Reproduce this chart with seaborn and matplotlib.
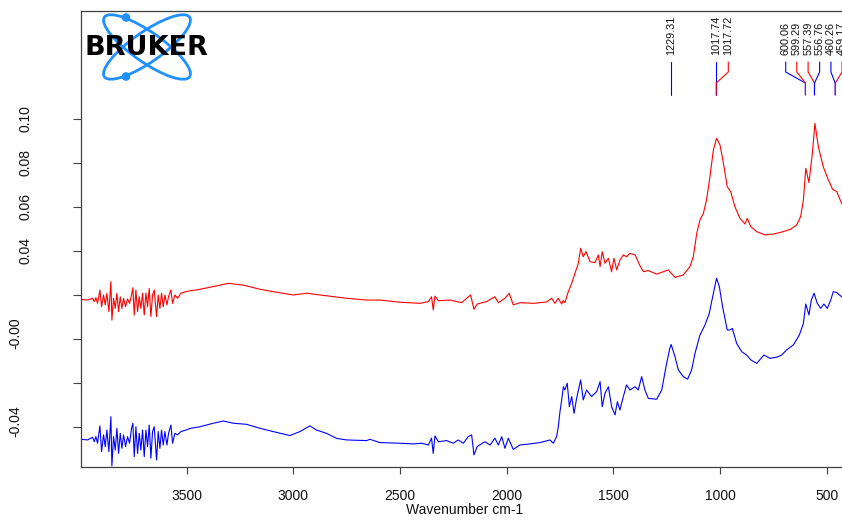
import numpy as np
import pandas as pd
import matplotlib
matplotlib.use("Agg")
import matplotlib.pyplot as plt
import matplotlib.transforms as mtransforms
from matplotlib.patches import Ellipse, Circle
import seaborn as sns

# ---------------- data (wavenumber cm-1, absorbance) ----------------
red_spectrum = [
    (3995.5, 0.0180), (3964.3, 0.0177), (3940.8, 0.0185), (3933.0, 0.0170), (3925.2, 0.0188),
    (3917.4, 0.0162), (3906.4, 0.0223), (3898.6, 0.0147), (3889.3, 0.0200), (3881.4, 0.0155),
    (3873.6, 0.0208), (3864.3, 0.0124), (3854.9, 0.0261), (3850.2, 0.0086), (3842.4, 0.0185),
    (3834.6, 0.0139), (3826.8, 0.0208), (3818.9, 0.0124), (3811.1, 0.0192), (3803.3, 0.0139),
    (3795.5, 0.0185), (3786.1, 0.0147), (3776.8, 0.0182), (3767.4, 0.0162), (3758.0, 0.0200),
    (3751.8, 0.0233), (3745.5, 0.0109), (3737.7, 0.0223), (3729.9, 0.0124), (3722.1, 0.0192),
    (3714.3, 0.0139), (3706.4, 0.0208), (3698.6, 0.0109), (3690.8, 0.0208), (3683.0, 0.0147),
    (3675.2, 0.0230), (3667.4, 0.0102), (3659.6, 0.0200), (3651.8, 0.0223), (3640.8, 0.0102),
    (3633.0, 0.0200), (3625.2, 0.0139), (3617.4, 0.0208), (3609.6, 0.0147), (3601.8, 0.0200),
    (3592.4, 0.0155), (3584.6, 0.0192), (3573.6, 0.0223), (3565.8, 0.0162), (3554.9, 0.0200),
    (3542.4, 0.0185), (3526.8, 0.0208), (3503.3, 0.0215), (3479.9, 0.0220),
    (3453, 0.0223), (3375, 0.0238), (3305, 0.0253), (3235, 0.0245), (3156, 0.0226),
    (3094, 0.0215), (3000, 0.0200), (2937, 0.0208), (2875, 0.0200), (2750, 0.0185),
    (2656, 0.0177), (2594, 0.0177), (2500, 0.0167), (2406, 0.0162), (2367, 0.0170),
    (2352, 0.0192), (2344, 0.0132), (2336, 0.0195), (2320, 0.0174), (2266, 0.0177),
    (2211, 0.0165), (2169, 0.0200), (2153, 0.0135), (2138, 0.0159), (2094, 0.0170),
    (2055, 0.0192), (2039, 0.0165), (2008, 0.0185), (1988, 0.0208), (1969, 0.0155),
    (1938, 0.0165), (1875, 0.0162), (1813, 0.0168), (1789, 0.0185), (1774, 0.0162),
    (1758, 0.0185), (1742, 0.0159), (1735, 0.0175), (1727, 0.0165), (1711, 0.0215),
    (1695, 0.0253), (1680, 0.0298), (1664, 0.0344), (1653, 0.0412), (1641, 0.0374),
    (1628, 0.0397), (1609, 0.0351), (1586, 0.0347), (1570, 0.0382), (1562, 0.0329),
    (1552, 0.0397), (1539, 0.0344), (1523, 0.0367), (1508, 0.0306), (1497, 0.0367),
    (1484, 0.0314), (1469, 0.0359), (1453, 0.0382), (1438, 0.0374), (1422, 0.0389),
    (1398, 0.0382), (1375, 0.0333), (1359, 0.0306), (1336, 0.0311), (1297, 0.0295),
    (1266, 0.0306), (1242, 0.0314), (1211, 0.0280), (1172, 0.0291), (1141, 0.0329),
    (1125, 0.0374), (1109, 0.0480), (1094, 0.0541), (1078, 0.0571), (1063, 0.0632),
    (1047, 0.0738), (1031, 0.0859), (1016, 0.0912), (1000, 0.0882), (984, 0.0799),
    (966, 0.0692), (950, 0.0670), (930, 0.0601), (906, 0.0548), (883, 0.0523),
    (872, 0.0548), (856, 0.0511), (828, 0.0488), (789, 0.0473), (750, 0.0477),
    (703, 0.0488), (669, 0.0499), (641, 0.0518), (622, 0.0556), (609, 0.0632),
    (598, 0.0776), (583, 0.0711), (567, 0.0844), (555, 0.0980), (539, 0.0874),
    (516, 0.0783), (492, 0.0723), (472, 0.0680), (453, 0.0670), (430, 0.0617),
    (400, 0.0580),
]

blue_spectrum = [
    (3995.5, -0.0456), (3964.3, -0.0459), (3940.8, -0.0447), (3933.0, -0.0467), (3925.2, -0.0444),
    (3917.4, -0.0474), (3906.4, -0.0395), (3898.6, -0.0512), (3889.3, -0.0436), (3881.4, -0.0489),
    (3873.6, -0.0414), (3864.3, -0.0512), (3854.9, -0.0353), (3850.2, -0.0577), (3842.4, -0.0444),
    (3834.6, -0.0505), (3826.8, -0.0406), (3818.9, -0.0520), (3811.1, -0.0429), (3803.3, -0.0497),
    (3795.5, -0.0436), (3786.1, -0.0489), (3776.8, -0.0444), (3767.4, -0.0474), (3758.0, -0.0406),
    (3751.8, -0.0383), (3745.5, -0.0535), (3737.7, -0.0399), (3729.9, -0.0520), (3722.1, -0.0429),
    (3714.3, -0.0505), (3706.4, -0.0414), (3698.6, -0.0535), (3690.8, -0.0414), (3683.0, -0.0489),
    (3675.2, -0.0391), (3667.4, -0.0542), (3659.6, -0.0421), (3651.8, -0.0399), (3640.8, -0.0550),
    (3633.0, -0.0421), (3625.2, -0.0497), (3617.4, -0.0414), (3609.6, -0.0482), (3601.8, -0.0421),
    (3592.4, -0.0482), (3584.6, -0.0429), (3573.6, -0.0391), (3565.8, -0.0474), (3554.9, -0.0429),
    (3542.4, -0.0436), (3526.8, -0.0421), (3503.3, -0.0414), (3479.9, -0.0406),
    (3438, -0.0399), (3375, -0.0383), (3328, -0.0373), (3281, -0.0383), (3219, -0.0388),
    (3156, -0.0406), (3094, -0.0421), (3016, -0.0439), (2969, -0.0421), (2922, -0.0395),
    (2891, -0.0414), (2844, -0.0429), (2797, -0.0452), (2750, -0.0459), (2656, -0.0462),
    (2641, -0.0456), (2594, -0.0471), (2500, -0.0474), (2438, -0.0477), (2398, -0.0474),
    (2367, -0.0482), (2352, -0.0451), (2344, -0.0520), (2336, -0.0441), (2320, -0.0467),
    (2281, -0.0462), (2250, -0.0474), (2227, -0.0459), (2203, -0.0474), (2180, -0.0444),
    (2164, -0.0436), (2153, -0.0527), (2138, -0.0489), (2102, -0.0467), (2078, -0.0482),
    (2055, -0.0451), (2039, -0.0482), (2023, -0.0444), (2008, -0.0497), (1992, -0.0451),
    (1969, -0.0502), (1938, -0.0482), (1891, -0.0477), (1844, -0.0471), (1797, -0.0459),
    (1781, -0.0474), (1766, -0.0444), (1758, -0.0400), (1750, -0.0330), (1742, -0.0277),
    (1734, -0.0217), (1727, -0.0232), (1716, -0.0201), (1706, -0.0308), (1695, -0.0262),
    (1684, -0.0338), (1672, -0.0270), (1653, -0.0186), (1641, -0.0277), (1625, -0.0232),
    (1602, -0.0262), (1578, -0.0239), (1562, -0.0194), (1552, -0.0308), (1539, -0.0247),
    (1523, -0.0217), (1508, -0.0308), (1492, -0.0345), (1481, -0.0285), (1469, -0.0323),
    (1453, -0.0262), (1438, -0.0209), (1422, -0.0232), (1398, -0.0217), (1383, -0.0232),
    (1367, -0.0171), (1352, -0.0232), (1336, -0.0270), (1297, -0.0274), (1273, -0.0232),
    (1250, -0.0111), (1235, -0.0042), (1229, -0.0025), (1211, -0.0080), (1195, -0.0141),
    (1172, -0.0171), (1152, -0.0183), (1133, -0.0141), (1117, -0.0065), (1094, 0.0018),
    (1070, 0.0064), (1050, 0.0117), (1031, 0.0208), (1016, 0.0276), (1003, 0.0238),
    (988, 0.0147), (966, 0.0041), (953, 0.0041), (942, 0.0048), (922, -0.0020),
    (898, -0.0058), (875, -0.0073), (856, -0.0095), (828, -0.0111), (794, -0.0073),
    (766, -0.0088), (734, -0.0083), (711, -0.0073), (688, -0.0050), (656, -0.0027),
    (628, 0.0018), (609, 0.0071), (598, 0.0159), (583, 0.0109), (572, 0.0177),
    (559, 0.0208), (544, 0.0162), (528, 0.0139), (513, 0.0159), (497, 0.0139),
    (481, 0.0177), (469, 0.0215), (453, 0.0211), (430, 0.0192), (400, 0.0185),
]

peak_wavenumbers = [1229.31, 1017.74, 1017.72, 600.06, 599.29, 557.39, 556.76, 460.26, 459.17]
peak_labels = ["1229.31", "1017.74", "1017.72", "600.06", "599.29", "557.39", "556.76", "460.26", "459.17"]
peak_series = ["blue", "blue", "red", "blue", "red", "red", "blue", "blue", "red"]

x_ticks = [3500, 3000, 2500, 2000, 1500, 1000, 500]
y_ticks = [-0.04, -0.02, 0.00, 0.02, 0.04, 0.06, 0.08, 0.10]
y_tick_labels = ["-0.04", "", "-0.00", "", "0.04", "0.06", "0.08", "0.10"]
x_label = "Wavenumber cm-1"
logo_text = "BRUKER"

# ---------------- styling ----------------
sns.set_style("ticks")
plt.rcParams["font.family"] = ["Liberation Sans", "DejaVu Sans"]

series_colors = {"red": "#ff0000", "blue": "#0000ff"}
frames = []
for name, pts in (("blue", blue_spectrum), ("red", red_spectrum)):
    wn, ab = zip(*pts)
    frames.append(pd.DataFrame({"wavenumber": wn, "absorbance": ab, "series": name}))
df = pd.concat(frames, ignore_index=True)

W, H = 842, 524
fig = plt.figure(figsize=(W / 100, H / 100), dpi=100)
ax_left, ax_right, ax_top, ax_bottom = 81, 848, 11, 467
ax = fig.add_axes([ax_left / W, (H - ax_bottom) / H,
                   (ax_right - ax_left) / W, (ax_bottom - ax_top) / H])

sns.lineplot(data=df, x="wavenumber", y="absorbance", hue="series",
             palette=series_colors, sort=False, estimator=None,
             linewidth=0.8, legend=False, ax=ax)

ax.set_xlim(3995, 400)
ax.set_ylim(-0.0582, 0.1491)

for side in ("left", "top", "bottom", "right"):
    ax.spines[side].set_color("#404040")
    ax.spines[side].set_linewidth(0.9)

ax.set_xticks(x_ticks)
ax.set_xticklabels([str(t) for t in x_ticks])
ax.tick_params(axis="x", direction="out", length=5, width=0.8, pad=10.5,
               labelsize=10, color="#404040", labelcolor="#111111")
ax.set_yticks(y_ticks)
ax.set_yticklabels([])
ax.tick_params(axis="y", direction="out", length=5.8, width=0.8, color="#404040")

ax.set_xlabel(x_label, fontsize=10, color="#111111")
ax.set_ylabel("")
ax.xaxis.set_label_coords(0.5, -0.080)

# y tick labels (rotated, negative ones shifted as in the original)
ytrans = mtransforms.blended_transform_factory(ax.transAxes, ax.transData)
axw = ax_right - ax_left
for v, lab in zip(y_ticks, y_tick_labels):
    if not lab:
        continue
    neg = lab.startswith("-")
    xf = (22 - ax_left) / axw if neg else (33 - ax_left) / axw
    off = mtransforms.ScaledTranslation(0, 0.06 if neg else 0, fig.dpi_scale_trans)
    ax.text(xf, v, lab, transform=ytrans + off, rotation=90, ha="right",
            va="center", fontsize=10, color="#111111")

# peak annotations
ptrans = mtransforms.blended_transform_factory(ax.transData, ax.transAxes)
label_positions = [1229.31, 1017.74, 961, 692, 640, 587, 533, 480, 428]
axh = ax_bottom - ax_top
yf = lambda py: (ax_bottom - py) / axh
for pk, lab, ser, lx in zip(peak_wavenumbers, peak_labels, peak_series, label_positions):
    ax.plot([lx, lx, pk, pk], [yf(62), yf(72), yf(83), yf(95)], transform=ptrans,
            color=series_colors[ser], lw=0.8, clip_on=False)
    ax.text(lx, yf(55), lab, transform=ptrans, rotation=90, ha="center", va="bottom",
            fontsize=7.8, color="#111111", clip_on=False)

# logo
ov = fig.add_axes([0, 0, 1, 1], zorder=5)
ov.set_xlim(0, W)
ov.set_ylim(H, 0)
ov.axis("off")
logo_blue = "#1e90ff"
for ang in (35, -35):
    ov.add_patch(Ellipse((147, 47), 104, 30, angle=ang, fill=False, ec=logo_blue, lw=2.0))
ov.add_patch(Circle((126, 17.5), 3.6, color=logo_blue))
ov.add_patch(Circle((126, 76.5), 3.6, color=logo_blue))
ov.text(146, 48, logo_text, ha="center", va="center", fontsize=19.5, fontweight="bold",
        family="DejaVu Sans", color="black")

fig.savefig("out.png", dpi=100)
